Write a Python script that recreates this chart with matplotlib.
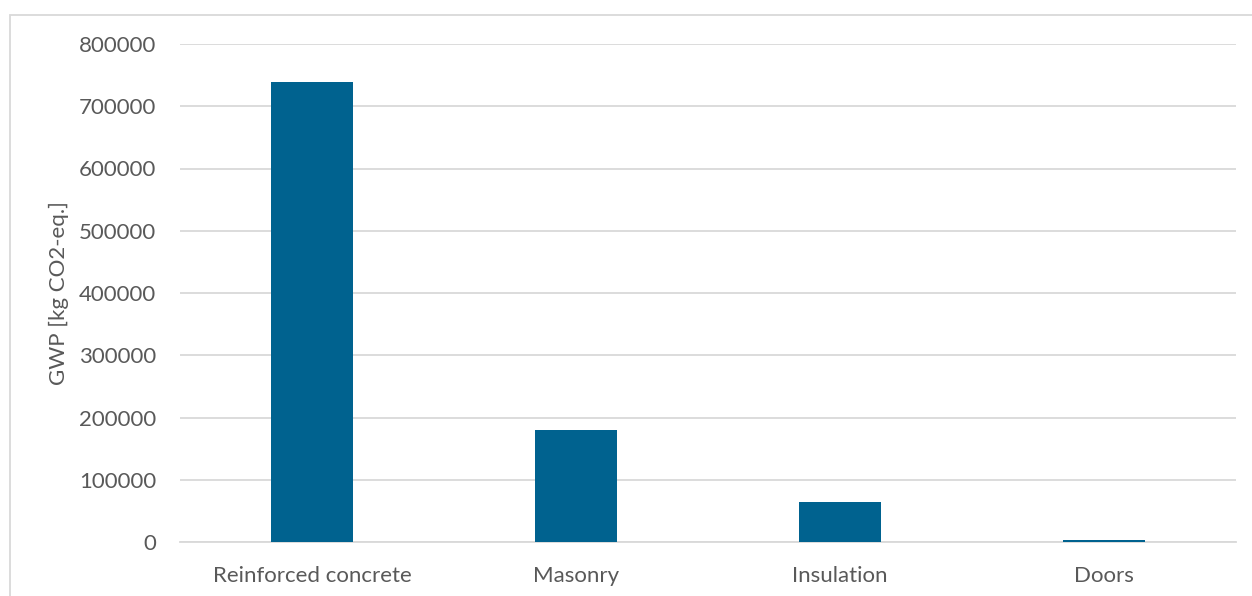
import matplotlib
matplotlib.use("Agg")
import matplotlib.pyplot as plt
from matplotlib.patches import Rectangle

categories = ["Reinforced concrete", "Masonry", "Insulation", "Doors"]
gwp_values = [739000, 180000, 64000, 3000]
y_ticks = [0, 100000, 200000, 300000, 400000, 500000, 600000, 700000, 800000]

plt.rcParams['font.family'] = ['Lato', 'DejaVu Sans']

W, H = 1252, 596
fig = plt.figure(figsize=(W / 100, H / 100), dpi=100)
fig.patches.append(Rectangle((10 / W, -0.2), 1.2, (H - 15) / H + 0.2, transform=fig.transFigure,
                             fill=False, edgecolor="#d9d9d9", linewidth=1.3, zorder=0))

ax = fig.add_axes([180 / W, 54 / H, (1236 - 180) / W, (542 - 44) / H])
x = range(len(categories))
ax.bar(x, gwp_values, width=0.31, color="#00628F", zorder=3)
ax.set_xlim(-0.5, len(categories) - 0.5)
ax.set_ylim(0, 800000)
ax.set_yticks(y_ticks)
ax.set_yticklabels([str(v) for v in y_ticks])
ax.set_xticks(list(x))
ax.set_xticklabels(categories)
ax.tick_params(axis='both', length=0, labelsize=16, labelcolor="#595959")
ax.tick_params(axis='x', pad=17)
ax.tick_params(axis='y', pad=17)
ax.yaxis.grid(True, color="#d9d9d9", linewidth=1.3, zorder=0)
ax.set_axisbelow(True)
for s in ["top", "right", "left"]:
    ax.spines[s].set_visible(False)
ax.spines["bottom"].set_color("#d9d9d9")
ax.spines["bottom"].set_linewidth(1.3)
ax.set_ylabel("GWP [kg CO2-eq.]", fontsize=16, color="#595959", labelpad=7)

fig.savefig("out.png", dpi=100)
